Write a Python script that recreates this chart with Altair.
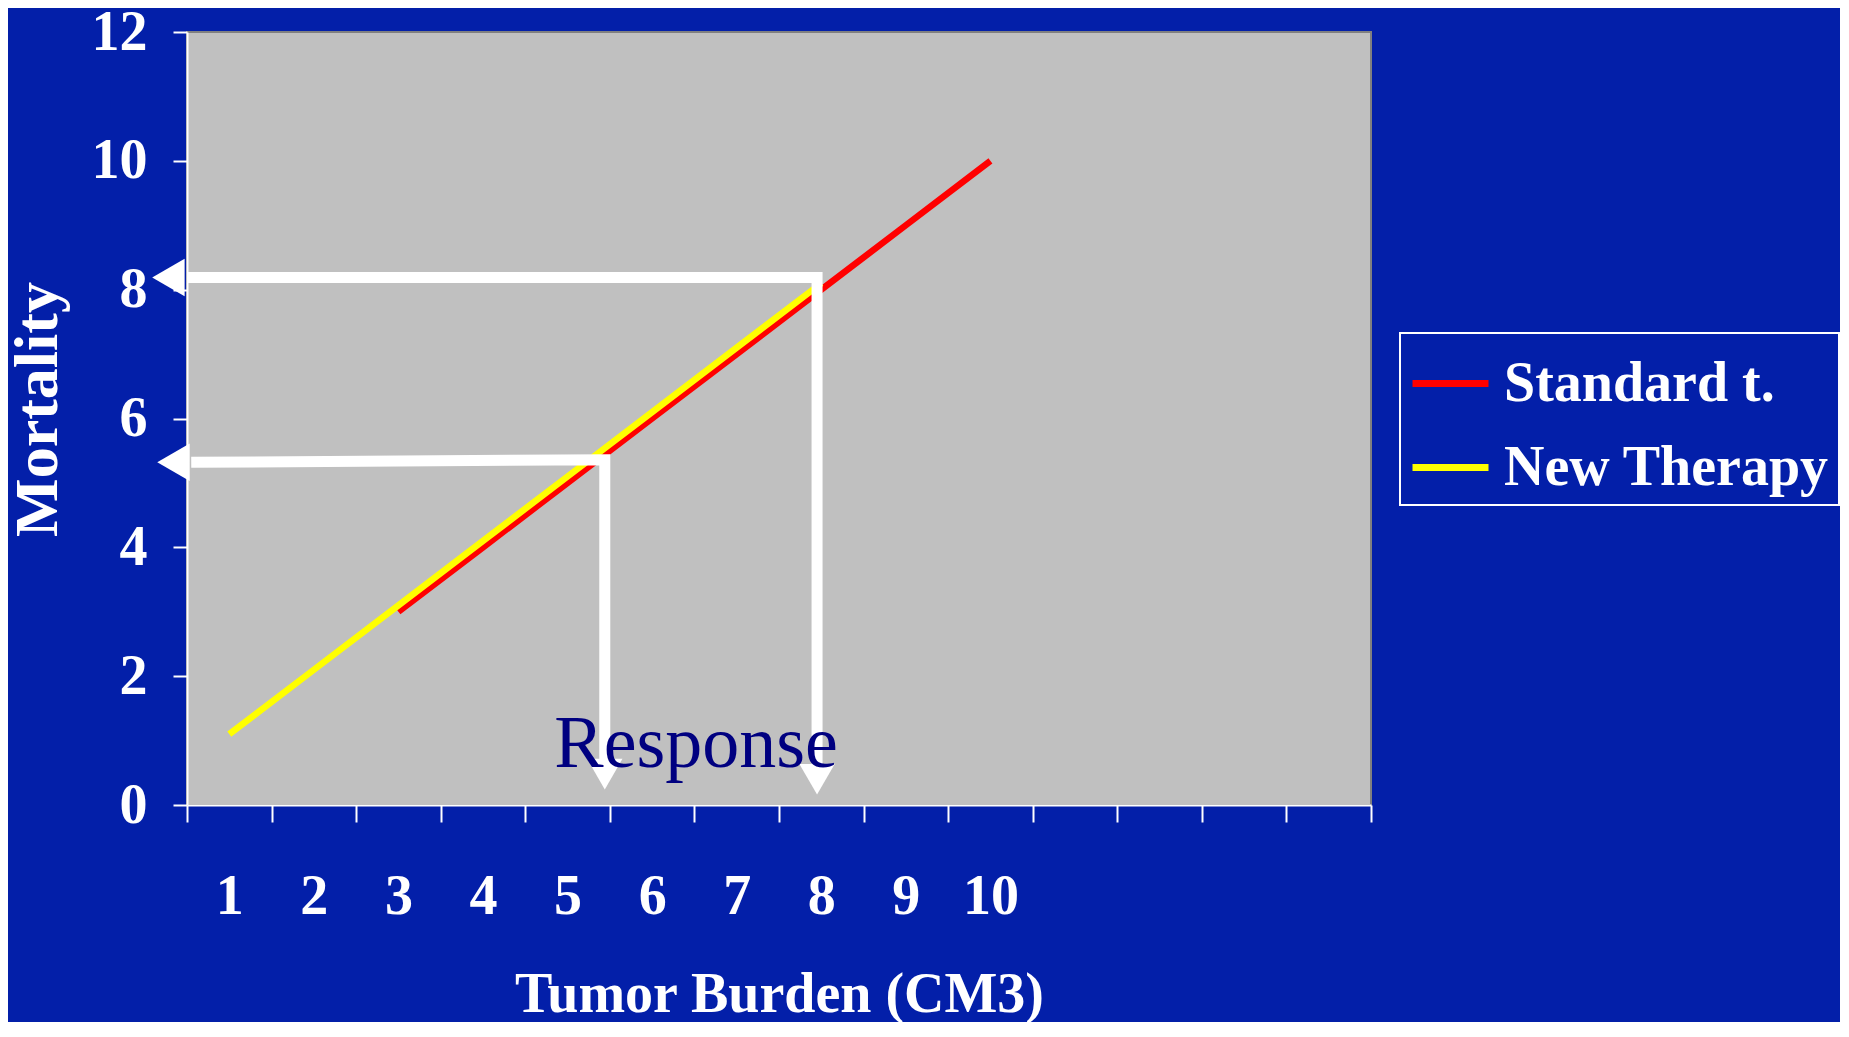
import altair as alt
import pandas as pd

# ---------------- data ----------------
series_names = ["Standard t.", "New Therapy"]
series_colors = ["#FF0000", "#FFFF00"]

standard_x = [3, 4, 5, 6, 7, 8, 9, 10]
standard_y = [3.0, 4.0, 5.0, 6.0, 7.0, 8.0, 9.0, 10.0]

new_x = [1, 2, 3, 4, 5, 6, 7, 8]
new_y = [1.1, 2.1, 3.1, 4.1, 5.1, 6.1, 7.1, 8.1]

x_tick_bounds = [0.5, 1.5, 2.5, 3.5, 4.5, 5.5, 6.5, 7.5, 8.5, 9.5, 10.5, 11.5, 12.5, 13.5, 14.5]
x_tick_labels = [1, 2, 3, 4, 5, 6, 7, 8, 9, 10]
y_ticks = [0, 2, 4, 6, 8, 10, 12]

# arrows (shafts as polylines, heads as triangles)
arrow_id = ["upper", "upper", "upper", "lower", "lower", "lower"]
arrow_step = [0, 1, 2, 0, 1, 2]
arrow_x = [0.5, 7.95, 7.95, 0.55, 5.44, 5.44]
arrow_y = [8.19, 8.19, 0.6, 5.32, 5.36, 0.7]

head_left_x = [0.28, 0.34]
head_left_y = [8.19, 5.32]
head_down_x = [7.95, 5.44]
head_down_y = [0.40, 0.48]

response_label = ["Response"]
response_x = [6.52]
response_y = [0.59]

# ---------------- frames ----------------
df_std = pd.DataFrame({"x": standard_x, "y": standard_y, "series": series_names[0]})
df_new = pd.DataFrame({"x": new_x, "y": new_y, "series": series_names[1]})
df_arrow = pd.DataFrame({"x": arrow_x, "y": arrow_y, "id": arrow_id, "step": arrow_step})
df_hl = pd.DataFrame({"x": head_left_x, "y": head_left_y})
df_hd = pd.DataFrame({"x": head_down_x, "y": head_down_y})
df_txt = pd.DataFrame({"x": response_x, "y": response_y, "label": response_label})

FONT = "Liberation Serif"
WHITE = "#FFFFFF"

x_scale = alt.Scale(domain=[0.5, 14.5], nice=False, zero=False)
y_scale = alt.Scale(domain=[0, 12], nice=False, zero=False)

tick_axis = alt.Axis(
    orient="bottom", values=x_tick_bounds, labels=False, title=None, grid=False,
    domainColor=WHITE, domainWidth=2, tickColor=WHITE, tickWidth=2, tickSize=17,
)
label_axis = alt.Axis(
    orient="bottom", values=x_tick_labels, ticks=False, tickSize=0, domain=False, grid=False,
    labelPadding=64, labelFont=FONT, labelFontSize=56, labelFontWeight="bold",
    labelColor=WHITE, labelFlush=False, labelOverlap=False, labelBound=False,
    title="Tumor Burden (CM3)", titleFont=FONT, titleFontSize=56, titleFontWeight="bold",
    titleColor=WHITE, titleY=206, titleBaseline="alphabetic",
)
y_axis = alt.Axis(
    values=y_ticks, grid=False, domainColor=WHITE, domainWidth=2,
    tickColor=WHITE, tickWidth=2, tickSize=14, labelPadding=26,
    labelFont=FONT, labelFontSize=56, labelFontWeight="bold", labelColor=WHITE,
    title="Mortality", titleFont=FONT, titleFontSize=62, titleFontWeight="bold",
    titleColor=WHITE, titleX=-131, titleY=377, titleBaseline="alphabetic",
)

legend = alt.Legend(
    title=None, orient="none", legendX=1213, legendY=301,
    symbolType="stroke", symbolSize=5776, symbolStrokeWidth=7,
    labelFont=FONT, labelFontSize=56, labelFontWeight="bold", labelColor=WHITE,
    labelLimit=600, labelOffset=12, strokeColor=WHITE, padding=9, rowPadding=14,
)
color_enc = alt.Color("series:N", scale=alt.Scale(domain=series_names, range=series_colors), legend=legend)


def ypos():
    return alt.Y("y:Q", scale=y_scale, axis=y_axis)


red = alt.Chart(df_std).mark_line(strokeWidth=6.5).encode(
    x=alt.X("x:Q", scale=x_scale, axis=tick_axis), y=ypos(), color=color_enc
)
yellow = alt.Chart(df_new).mark_line(strokeWidth=6.5).encode(
    x=alt.X("x:Q", scale=x_scale, axis=label_axis), y=ypos(), color=color_enc
)
arrows = alt.Chart(df_arrow).mark_line(
    color=WHITE, strokeWidth=11, strokeJoin="miter", strokeCap="butt"
).encode(
    x=alt.X("x:Q", scale=x_scale, axis=None), y=ypos(), detail="id:N", order="step:Q"
)
heads_left = alt.Chart(df_hl).mark_point(
    shape="triangle-left", filled=True, color=WHITE, size=1400, opacity=1
).encode(x=alt.X("x:Q", scale=x_scale, axis=None), y=ypos())
heads_down = alt.Chart(df_hd).mark_point(
    shape="triangle-down", filled=True, color=WHITE, size=1250, opacity=1
).encode(x=alt.X("x:Q", scale=x_scale, axis=None), y=ypos())
txt = alt.Chart(df_txt).mark_text(
    font=FONT, fontSize=74, color="#000080", align="center", baseline="alphabetic"
).encode(x=alt.X("x:Q", scale=x_scale, axis=None), y=ypos(), text="label:N")

chart = (
    alt.layer(red, yellow, arrows, heads_left, heads_down, txt)
    .resolve_axis(x="independent")
    .properties(
        width=1184, height=773,
        padding={"left": 179, "top": 24, "right": 469, "bottom": 217},
        autosize=alt.AutoSizeParams(type="none"),
        background="#031FA9",
    )
    .configure_view(fill="#C0C0C0", stroke="#808080", strokeWidth=2)
    .configure_legend(strokeWidth=2)
)

chart.save("out.html", embed_options={"renderer": "svg", "actions": False})
